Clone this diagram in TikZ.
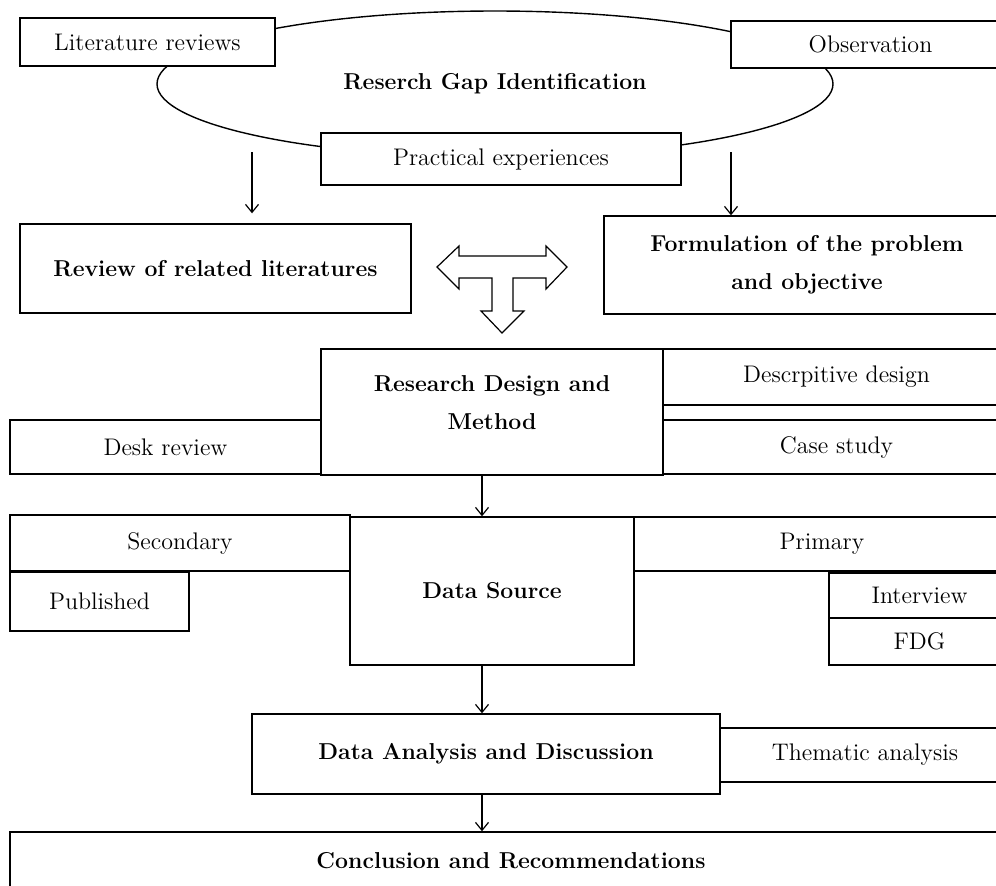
\documentclass[tikz,border=0pt]{standalone}
\usetikzlibrary{positioning,arrows.meta,shapes.geometric}

\tikzset{
  box/.style={draw, rectangle, fill=white, inner sep=0pt, align=center, font=\fontsize{12}{14}\selectfont},
  bigbox/.style={box, font=\fontsize{11.5}{19}\selectfont\bfseries},
  arr/.style={-{Straight Barb[length=4pt,width=6.5pt]}, line width=0.6pt},
}

\begin{document}
\begin{tikzpicture}[x=0.5pt, y=-0.5pt, line width=0.7pt]
  \useasboundingbox[fill=white] (0,0) rectangle (996,885);
  \clip (0,0) rectangle (996,885);

  % Research gap
  \node[draw, ellipse, inner sep=0pt, minimum width=338pt, minimum height=73pt,
        font=\fontsize{11.5}{14}\selectfont\bfseries] (gap) at (495,84) {Reserch Gap Identification};
  \node[box, minimum width=127.5pt, minimum height=24pt] (litrev) at (147.5,42) {Literature reviews};
  \node[box, minimum width=139.5pt, minimum height=23.5pt] (obs) at (870.5,44.5) {Observation};
  \node[box, minimum width=180pt, minimum height=26pt] (practical) at (501,159) {Practical experiences};

  % Literature and problem
  \node[bigbox, minimum width=195.5pt, minimum height=44.5pt] (review) at (215.5,268.5) {Review of related literatures};
  \node[bigbox, minimum width=203pt, minimum height=49pt] (formul) at (807,265) {Formulation of the problem\\and objective};

  \draw[line width=0.6pt] (437,267) -- (459,246) -- (459,256) -- (546,256) -- (546,246)
    -- (567,267) -- (546,289) -- (546,278) -- (513,278) -- (513,311) -- (524,311)
    -- (502,333) -- (481,311) -- (492,311) -- (492,278) -- (459,278) -- (459,289) -- cycle;

  % Design and method
  \node[bigbox, minimum width=171pt, minimum height=63pt, text depth=9pt] (design) at (492,412) {Research Design and\\Method};
  \node[box, minimum width=173.5pt, minimum height=28pt] (descr) at (836.5,377) {Descrpitive design};
  \node[box, minimum width=173.5pt, minimum height=27pt] (case) at (836.5,447) {Case study};
  \node[box, minimum width=155.5pt, minimum height=27pt] (desk) at (165.5,447) {Desk review};

  % Data source
  \node[bigbox, minimum width=142pt, minimum height=74pt] (source) at (492,591) {Data Source};
  \node[box, minimum width=170pt, minimum height=28pt] (secondary) at (180,543) {Secondary};
  \node[box, minimum width=89.5pt, minimum height=29.5pt] (published) at (99.5,601.5) {Published};
  \node[box, minimum width=188pt, minimum height=27pt] (primary) at (822,544) {Primary};
  \node[box, minimum width=90.5pt, minimum height=22.5pt] (interview) at (919.5,595.5) {Interview};
  \node[box, minimum width=90.5pt, minimum height=23.5pt] (fdg) at (919.5,641.5) {FDG};

  % Analysis and conclusion
  \node[bigbox, minimum width=234pt, minimum height=40pt] (analysis) at (486,754) {Data Analysis and Discussion};
  \node[box, minimum width=145pt, minimum height=27pt] (thematic) at (865,755) {Thematic analysis};
  \node[bigbox, minimum width=501pt, minimum height=29pt] (concl) at (511,861) {Conclusion and Recommendations};

  % Arrows
  \coordinate (gapL) at (252,152);
  \coordinate (gapR) at (731,152);
  \coordinate (mid) at (482,0);
  \draw[arr, shorten >=5pt] (gapL) -- (gapL |- review.north);
  \draw[arr] (gapR) -- (gapR |- formul.north);
  \draw[arr] (mid |- design.south) -- (mid |- source.north);
  \draw[arr] (mid |- source.south) -- (mid |- analysis.north);
  \draw[arr] (mid |- analysis.south) -- (mid |- concl.north);
\end{tikzpicture}
\end{document}
